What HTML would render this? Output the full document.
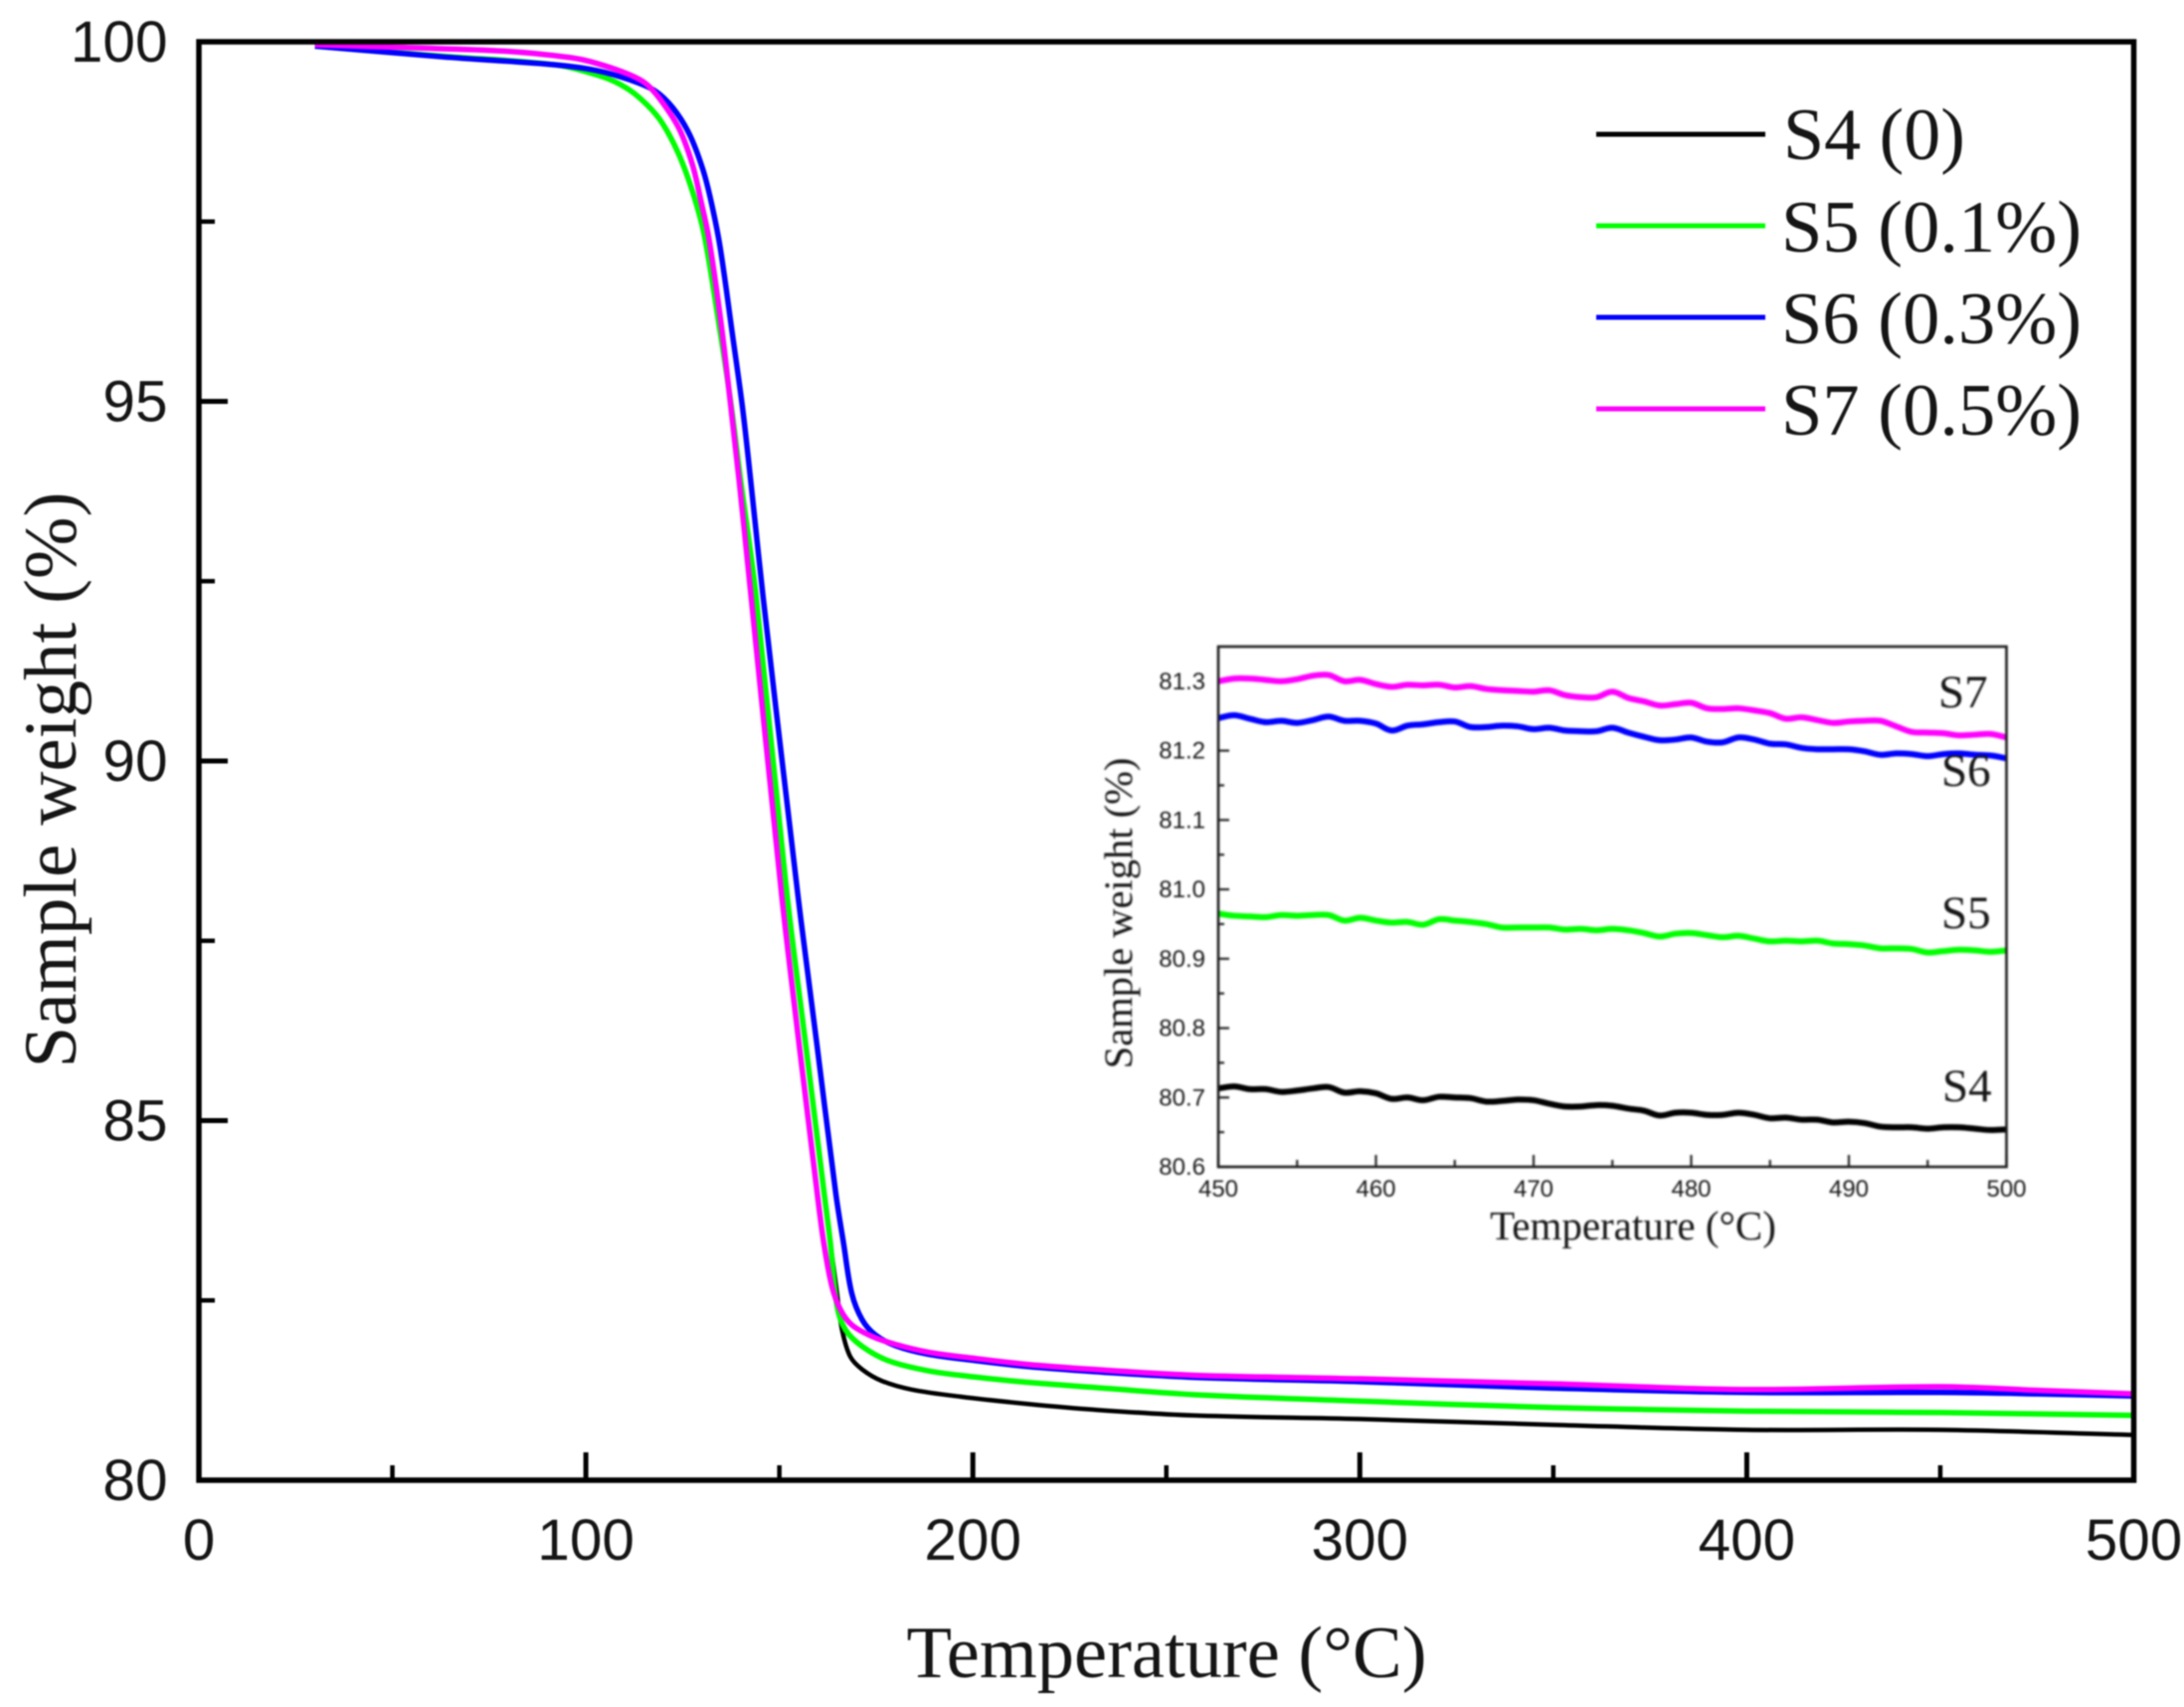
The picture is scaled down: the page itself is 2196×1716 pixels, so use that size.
<!DOCTYPE html>
<html lang="en">
<head>
<meta charset="utf-8">
<title>Sample weight vs temperature</title>
<style>
html,body{margin:0;padding:0;background:#fff;width:2196px;height:1716px;overflow:hidden}
svg{display:block;filter:blur(0.8px)}
text{fill:#151515}
.sans{font-family:"Liberation Sans",sans-serif}
.serif{font-family:"Liberation Serif",serif}
#inset-group{filter:blur(0.8px)}
</style>
</head>
<body>
<svg id="chart" xmlns="http://www.w3.org/2000/svg" width="2196" height="1716" viewBox="0 0 2196 1716">
  <rect x="0" y="0" width="2196" height="1716" fill="#fff"/>
  <g id="main-plot"></g>
  <rect x="200" y="42" width="1945.5" height="1446" fill="none" stroke="#000" stroke-width="5.5"/>
  <text class="serif" x="1173" y="1686" font-size="74.5" text-anchor="middle">Temperature (°C)</text>
  <text class="serif" transform="translate(76,784) rotate(-90)" font-size="75" text-anchor="middle">Sample weight (%)</text>

  <g>
    <line x1="1605" x2="1775" y1="135" y2="135" stroke="#000" stroke-width="5"/>
    <text class="serif" x="1793" y="160" font-size="74">S4 (0)</text>
    <line x1="1605" x2="1775" y1="227" y2="227" stroke="#00ff00" stroke-width="5"/>
    <text class="serif" x="1791" y="253" font-size="74.5">S5 (0.1%)</text>
    <line x1="1605" x2="1775" y1="319" y2="319" stroke="#0000ff" stroke-width="5"/>
    <text class="serif" x="1791" y="345" font-size="74.5">S6 (0.3%)</text>
    <line x1="1605" x2="1775" y1="411" y2="411" stroke="#ff00ff" stroke-width="5"/>
    <text class="serif" x="1791" y="437" font-size="74.5">S7 (0.5%)</text>
  </g>

  <g id="inset-group">
    <g id="inset-plot"></g>
    <rect x="1225" y="650" width="792.5" height="523" fill="none" stroke="#1a1a1a" stroke-width="2.6"/>
    <text class="serif" x="1642" y="1246" font-size="41" text-anchor="middle">Temperature (°C)</text>
    <text class="serif" transform="translate(1138,918) rotate(-90)" font-size="40.5" text-anchor="middle">Sample weight (%)</text>
    <text class="serif" x="1949" y="711" font-size="47">S7</text>
    <text class="serif" x="1952" y="790" font-size="47">S6</text>
    <text class="serif" x="1952" y="933" font-size="47">S5</text>
    <text class="serif" x="1953" y="1107" font-size="47">S4</text>
  </g>
</svg>
<script>
// Main chart data
const xTicks = [0, 100, 200, 300, 400, 500];
const xMinorTicks = [50, 150, 250, 350, 450];
const yTicks = [80, 85, 90, 95, 100];
const yMinorTicks = [82.5, 87.5, 92.5, 97.5];

const s4Temp = [30,63,92,102.8,108.8,113.9,119.1,123.8,127.6,130.6,134.6,137.4,140,144,152,156.8,161.6,163.2,164.9,166.2,168.3,171.4,176.5,184.2,197,214.2,231.4,257,300,350,400,450,500];
const s4Weight = [99.94,99.80,99.68,99.54,99.41,99.22,98.92,98.46,97.91,97.31,96,95,93.9,92.28,88.13,86.06,83.98,83.29,82.6,82.09,81.72,81.54,81.38,81.26,81.16,81.06,80.98,80.90,80.85,80.77,80.70,80.70,80.63];
const s5Temp = [30,63,92,102.8,108.8,113.9,119.1,123.8,127.6,130.6,134.6,137.4,140,144,152,156.8,161.6,163.2,164.9,167.1,171.4,178.2,188.5,199.6,214.2,231.4,257,300,350,400,450,500];
const s5Weight = [99.94,99.80,99.68,99.54,99.41,99.22,98.92,98.46,97.91,97.31,96,95,93.9,92.28,88.13,86.06,83.98,83.29,82.42,82.09,81.86,81.66,81.52,81.44,81.36,81.29,81.19,81.10,81.01,80.96,80.94,80.90];
const s6Temp = [30,63,92,102.8,111.4,117.8,122.5,126.8,130.2,132.4,134.7,137.9,140.6,143.2,145.8,154.8,159.7,164.6,166.6,168.7,171.4,174.8,180,188.5,199.6,214.2,231.4,257,300,350,400,450,475,500];
const s6Weight = [99.94,99.79,99.68,99.60,99.47,99.32,99.08,98.71,98.23,97.77,97.14,95.92,94.86,93.59,92.28,88.13,86.06,83.98,83.29,82.6,82.23,82.02,81.87,81.75,81.67,81.58,81.51,81.43,81.37,81.28,81.22,81.22,81.2,81.17];
const s7Temp = [30,53,79,96,102.8,111.4,115.7,119.9,124.2,127.6,129.8,131.8,134.9,137.3,139.6,142.7,150.6,155.1,159.8,161.5,163.6,165.8,168.7,173.9,179.9,188.5,199.6,214.2,231.4,257,300,350,400,450,475,500];
const s7Weight = [99.96,99.92,99.87,99.78,99.70,99.54,99.41,99.15,98.78,98.28,97.77,97.26,96.1,95,93.9,92.28,88.13,86.06,83.98,83.29,82.69,82.37,82.16,82,81.89,81.78,81.70,81.61,81.54,81.46,81.41,81.34,81.26,81.30,81.25,81.20];

// Inset chart data
const insetXTicks = [450, 460, 470, 480, 490, 500];
const insetXMinorTicks = [455, 465, 475, 485, 495];
const insetYTicks = ['80.6', '80.7', '80.8', '80.9', '81.0', '81.1', '81.2', '81.3'];
const insetYMinorTicks = [80.65, 80.75, 80.85, 80.95, 81.05, 81.15, 81.25];
const insetTemp = [450,451,452,453,454,455,456,457,458,459,460,461,462,463,464,465,466,467,468,469,470,471,472,473,474,475,476,477,478,479,480,481,482,483,484,485,486,487,488,489,490,491,492,493,494,495,496,497,498,499,500];
const insetS4 = [80.713,80.716,80.712,80.712,80.708,80.710,80.713,80.715,80.707,80.709,80.706,80.698,80.700,80.696,80.701,80.700,80.699,80.694,80.695,80.697,80.696,80.691,80.687,80.687,80.689,80.688,80.684,80.681,80.674,80.678,80.678,80.675,80.675,80.678,80.675,80.670,80.671,80.668,80.668,80.664,80.665,80.663,80.658,80.657,80.657,80.655,80.657,80.657,80.655,80.653,80.654];
const insetS5 = [80.965,80.962,80.961,80.960,80.963,80.962,80.963,80.963,80.955,80.959,80.955,80.952,80.953,80.949,80.957,80.955,80.953,80.950,80.945,80.945,80.945,80.945,80.942,80.943,80.941,80.943,80.941,80.937,80.932,80.936,80.937,80.934,80.931,80.933,80.929,80.925,80.926,80.925,80.926,80.922,80.921,80.919,80.915,80.915,80.914,80.909,80.911,80.913,80.912,80.910,80.912];
const insetS6 = [81.247,81.251,81.246,81.241,81.243,81.240,81.244,81.249,81.243,81.243,81.239,81.229,81.236,81.238,81.241,81.242,81.234,81.234,81.236,81.235,81.231,81.233,81.229,81.228,81.228,81.233,81.226,81.220,81.215,81.216,81.219,81.213,81.212,81.219,81.216,81.210,81.209,81.204,81.202,81.202,81.202,81.199,81.194,81.196,81.195,81.192,81.195,81.196,81.194,81.193,81.189];
const insetS7 = [81.300,81.304,81.304,81.302,81.300,81.303,81.308,81.309,81.300,81.302,81.296,81.292,81.295,81.294,81.295,81.291,81.293,81.289,81.287,81.286,81.285,81.287,81.280,81.277,81.277,81.285,81.276,81.271,81.265,81.267,81.269,81.261,81.260,81.261,81.258,81.254,81.246,81.248,81.244,81.240,81.242,81.243,81.243,81.235,81.227,81.226,81.225,81.222,81.223,81.224,81.219];

const SVGNS = 'http://www.w3.org/2000/svg';
const mainPlot = document.getElementById('main-plot');
const insetPlot = document.getElementById('inset-plot');

// Axis functions
function xMain(t) { return 200 + (t - 0) / (500 - 0) * 1945.5; }
function yMain(v) { return 1488 - (v - 80) / (100 - 80) * 1446; }
function xInset(t) { return 1225 + (t - 450) / (500 - 450) * 792.5; }
function yInset(v) { return 1173 - (v - 80.6) / (81.35 - 80.6) * 523; }

// Smooth path: tangent follows neighbouring points, handle length follows the chord
function smoothPath(xs, ys) {
  const n = xs.length;
  const tx = [];
  const ty = [];
  for (let i = 0; i < n; i++) {
    const a = Math.max(i - 1, 0);
    const b = Math.min(i + 1, n - 1);
    const dx = xs[b] - xs[a];
    const dy = ys[b] - ys[a];
    const len = Math.hypot(dx, dy) || 1;
    tx.push(dx / len);
    ty.push(dy / len);
  }
  let p = 'M' + xs[0].toFixed(2) + ' ' + ys[0].toFixed(2);
  for (let i = 0; i < n - 1; i++) {
    const h = Math.hypot(xs[i + 1] - xs[i], ys[i + 1] - ys[i]) / 3;
    p += 'C' + (xs[i] + tx[i] * h).toFixed(2) + ' ' + (ys[i] + ty[i] * h).toFixed(2) + ' ' +
      (xs[i + 1] - tx[i + 1] * h).toFixed(2) + ' ' + (ys[i + 1] - ty[i + 1] * h).toFixed(2) + ' ' +
      xs[i + 1].toFixed(2) + ' ' + ys[i + 1].toFixed(2);
  }
  return p;
}

function drawSeries(parent, temps, weights, xf, yf, color, width, name) {
  const path = document.createElementNS(SVGNS, 'path');
  
  
  path.setAttribute('d', smoothPath(temps.map(xf), weights.map(yf)));
  path.setAttribute('fill', 'none');
  path.setAttribute('stroke', color);
  path.setAttribute('stroke-width', width);
  path.setAttribute('stroke-linejoin', 'round');
  parent.appendChild(path);
}

function drawTick(parent, x1, y1, x2, y2, width, color, name) {
  const line = document.createElementNS(SVGNS, 'line');
  
  
  line.setAttribute('x1', x1);
  line.setAttribute('y1', y1);
  line.setAttribute('x2', x2);
  line.setAttribute('y2', y2);
  line.setAttribute('stroke', color);
  line.setAttribute('stroke-width', width);
  parent.appendChild(line);
}

function drawLabel(parent, x, y, size, anchor, content, name) {
  const label = document.createElementNS(SVGNS, 'text');
  
  
  label.setAttribute('class', 'sans');
  label.setAttribute('x', x);
  label.setAttribute('y', y);
  label.setAttribute('font-size', size);
  label.setAttribute('text-anchor', anchor);
  label.textContent = content;
  parent.appendChild(label);
}

// Main axes
xTicks.forEach(function (t) {
  drawTick(mainPlot, xMain(t), 1488, xMain(t), 1460, 5, '#000', 'x-major-tick');
  drawLabel(mainPlot, xMain(t), 1568, 58.5, 'middle', String(t), 'x-tick-label');
});
xMinorTicks.forEach(function (t) {
  drawTick(mainPlot, xMain(t), 1488, xMain(t), 1473, 4.5, '#000', 'x-minor-tick');
});
yTicks.forEach(function (v) {
  drawTick(mainPlot, 200, yMain(v), 229, yMain(v), 5, '#000', 'y-major-tick');
  drawLabel(mainPlot, 168.5, yMain(v) + 20, 58.5, 'end', String(v), 'y-tick-label');
});
yMinorTicks.forEach(function (v) {
  drawTick(mainPlot, 200, yMain(v), 216, yMain(v), 4.5, '#000', 'y-minor-tick');
});

// Main series
drawSeries(mainPlot, s4Temp, s4Weight, xMain, yMain, '#000000', 4.5, 'series-s4');
drawSeries(mainPlot, s5Temp, s5Weight, xMain, yMain, '#00ff00', 5.5, 'series-s5');
drawSeries(mainPlot, s6Temp, s6Weight, xMain, yMain, '#0000ff', 5.5, 'series-s6');
drawSeries(mainPlot, s7Temp, s7Weight, xMain, yMain, '#ff00ff', 5.5, 'series-s7');

// Inset axes
insetXTicks.forEach(function (t) {
  drawTick(insetPlot, xInset(t), 1173, xInset(t), 1161, 2.2, '#222', 'inset-x-major-tick');
  drawLabel(insetPlot, xInset(t), 1203, 24, 'middle', String(t), 'inset-x-tick-label');
});
insetXMinorTicks.forEach(function (t) {
  drawTick(insetPlot, xInset(t), 1173, xInset(t), 1166, 2.2, '#222', 'inset-x-minor-tick');
});
insetYTicks.forEach(function (s) {
  const v = parseFloat(s);
  drawTick(insetPlot, 1225, yInset(v), 1236, yInset(v), 2.2, '#222', 'inset-y-major-tick');
  drawLabel(insetPlot, 1212, yInset(v) + 8, 24, 'end', s, 'inset-y-tick-label');
});
insetYMinorTicks.forEach(function (v) {
  drawTick(insetPlot, 1225, yInset(v), 1231, yInset(v), 2.2, '#222', 'inset-y-minor-tick');
});

// Inset series
drawSeries(insetPlot, insetTemp, insetS4, xInset, yInset, '#000000', 6, 'inset-series-s4');
drawSeries(insetPlot, insetTemp, insetS5, xInset, yInset, '#00ff00', 6, 'inset-series-s5');
drawSeries(insetPlot, insetTemp, insetS6, xInset, yInset, '#0000ff', 6, 'inset-series-s6');
drawSeries(insetPlot, insetTemp, insetS7, xInset, yInset, '#ff00ff', 6, 'inset-series-s7');
</script>
</body>
</html>
